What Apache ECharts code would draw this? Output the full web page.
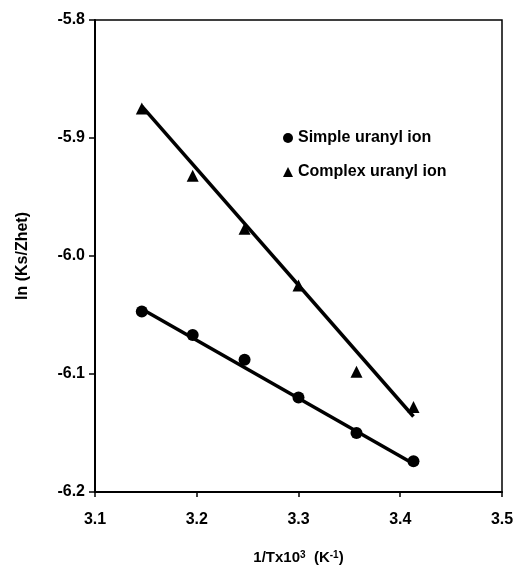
<!DOCTYPE html>
<html>
<head>
<meta charset="utf-8">
<script src="https://cdn.jsdelivr.net/npm/echarts@6/dist/echarts.min.js"></script>
<style>
  html, body { margin: 0; padding: 0; background: #fff; }
  #chart { width: 518px; height: 576px; }
</style>
</head>
<body>
<div id="chart"></div>
<script>
// data
const xTicks = [3.1, 3.2, 3.3, 3.4, 3.5];
const simpleX = [3.146, 3.196, 3.247, 3.300, 3.357, 3.413];
const simpleY = [-6.047, -6.067, -6.088, -6.120, -6.150, -6.174];
const complexX = [3.146, 3.196, 3.247, 3.300, 3.357, 3.413];
const complexY = [-5.875, -5.932, -5.977, -6.025, -6.098, -6.128];
// fitted lines (end points)
const simpleFitX = [3.146, 3.413];
const simpleFitY = [-6.045, -6.176];
const complexFitX = [3.146, 3.413];
const complexFitY = [-5.873, -6.136];

const zip = (xs, ys) => xs.map((x, i) => [x, ys[i]]);

const chart = echarts.init(document.getElementById('chart'));
const font = 'Liberation Sans, Arial, sans-serif';

chart.setOption({
  animation: false,
  grid: { left: 95, right: 16, top: 20, bottom: 84, show: true, borderColor: '#000', borderWidth: 1.5 },
  legend: {
    orient: 'vertical', left: 278, top: 125, itemGap: 18, itemWidth: 10, itemHeight: 10,
    textStyle: { fontFamily: font, fontSize: 16, fontWeight: 'bold', color: '#000' },
    itemStyle: { opacity: 1 },
    data: [
      { name: 'Simple uranyl ion', icon: 'circle' },
      { name: 'Complex uranyl ion', icon: 'triangle' }
    ]
  },
  xAxis: {
    type: 'value', min: 3.1, max: 3.5, interval: 0.1,
    name: '1/Tx10{sup|3}  (K{sup|-1})', nameLocation: 'middle', nameGap: 58,
    nameTextStyle: {
      fontFamily: font, fontSize: 15, fontWeight: 'bold', color: '#000',
      rich: { sup: { fontFamily: font, fontSize: 10, fontWeight: 'bold', color: '#000', verticalAlign: 'top', padding: [0, 0, 6, 0] } }
    },
    axisLine: { lineStyle: { color: '#000', width: 2 } },
    axisTick: { length: 5, lineStyle: { color: '#000', width: 1.5 } },
    axisLabel: { fontFamily: font, fontSize: 16, fontWeight: 'bold', color: '#000', margin: 20,
      formatter: v => v.toFixed(1) },
    splitLine: { show: false }
  },
  yAxis: {
    type: 'value', min: -6.2, max: -5.8, interval: 0.1,
    name: 'ln (Ks/Zhet)', nameLocation: 'middle', nameGap: 64,
    nameTextStyle: { fontFamily: font, fontSize: 16, fontWeight: 'bold', color: '#000' },
    axisLine: { lineStyle: { color: '#000', width: 2 } },
    axisTick: { length: 6, lineStyle: { color: '#000', width: 1.5 } },
    axisLabel: { fontFamily: font, fontSize: 16, fontWeight: 'bold', color: '#000', margin: 10,
      formatter: v => v.toFixed(1) },
    splitLine: { show: false }
  },
  series: [
    {
      name: 'Simple uranyl ion', type: 'scatter', symbol: 'circle', symbolSize: 12,
      itemStyle: { color: '#000', opacity: 1 }, data: zip(simpleX, simpleY), z: 3
    },
    {
      name: 'Complex uranyl ion', type: 'scatter', symbol: 'triangle', symbolSize: 12,
      itemStyle: { color: '#000', opacity: 1 }, data: zip(complexX, complexY), z: 3
    },
    {
      type: 'line', symbol: 'none', lineStyle: { color: '#000', width: 3.5 },
      data: zip(simpleFitX, simpleFitY), silent: true
    },
    {
      type: 'line', symbol: 'none', lineStyle: { color: '#000', width: 3.5 },
      data: zip(complexFitX, complexFitY), silent: true
    }
  ]
});
</script>
</body>
</html>
